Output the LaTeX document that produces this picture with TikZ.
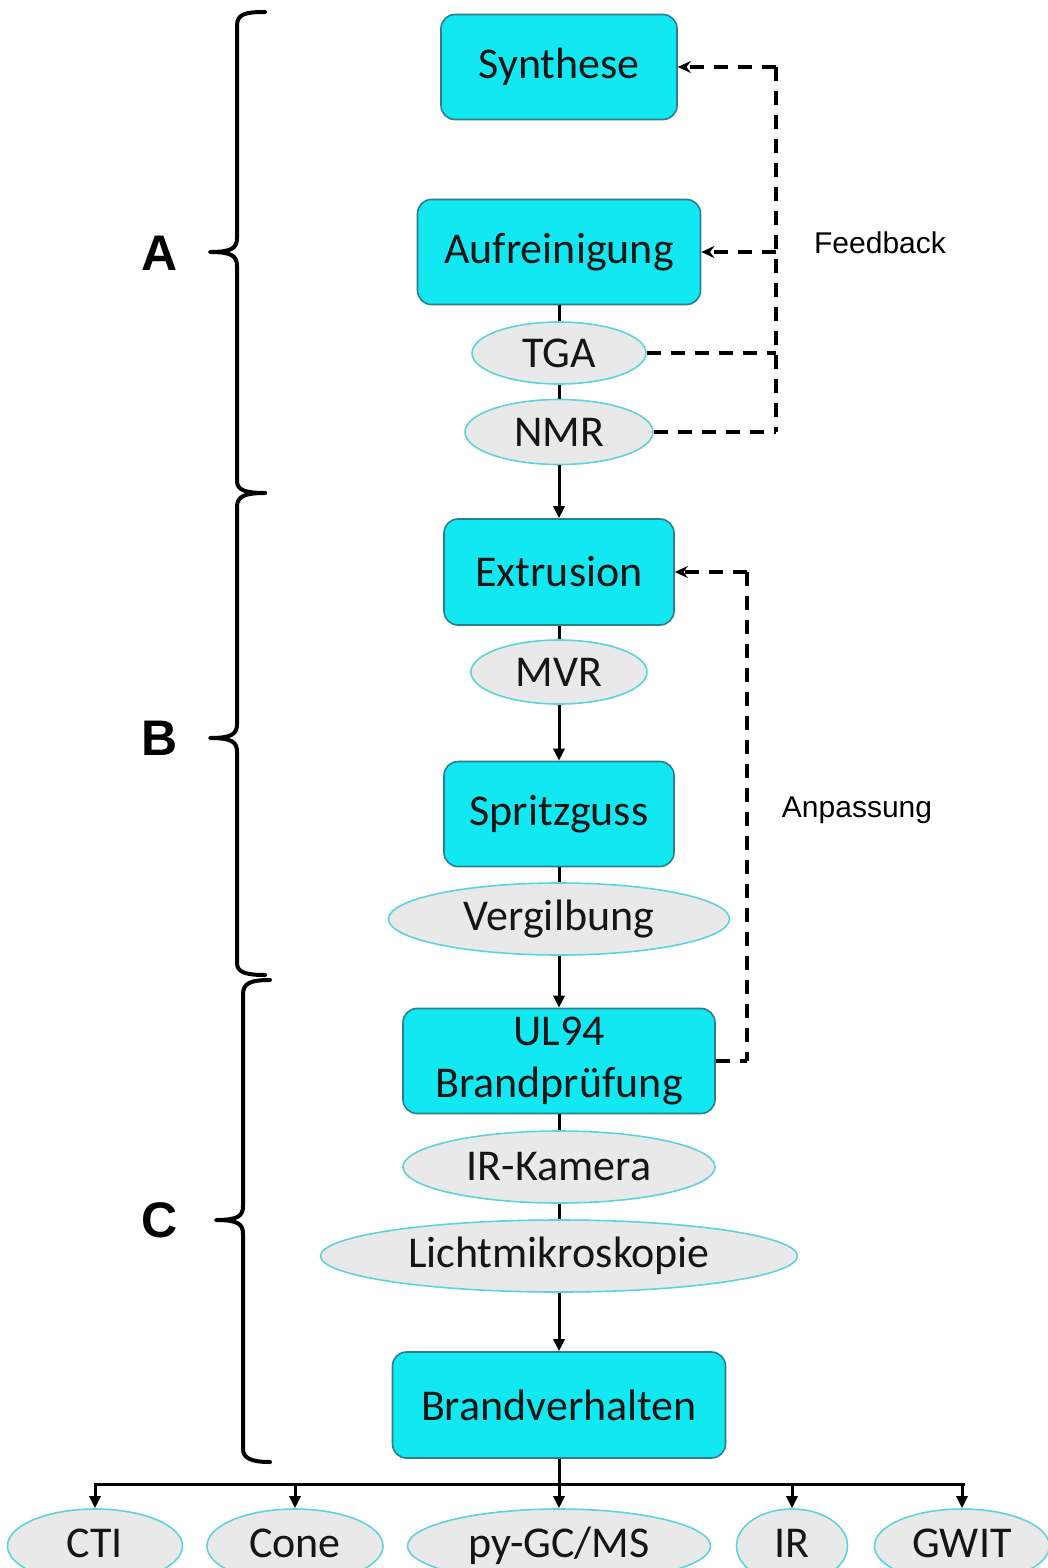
\documentclass[tikz,border=0pt]{standalone}
\usepackage{fontspec}
\setmainfont{Carlito}
\newfontfamily\arialfont{Liberation Sans}
\usetikzlibrary{shapes.geometric,arrows.meta}
\definecolor{boxfill}{HTML}{12E8F2}
\definecolor{boxdraw}{HTML}{2B7F8C}
\definecolor{ellfill}{HTML}{E9E9E9}
\definecolor{elldraw}{HTML}{5ED3DC}
\definecolor{txt}{HTML}{151515}
\begin{document}
\begin{tikzpicture}[x=1pt,y=-1pt,
  procbox/.style={draw=boxdraw, fill=boxfill, rounded corners=14pt, line width=1.6pt,
    inner sep=0pt, align=center, text=txt, font=\fontsize{44}{52}\selectfont},
  testell/.style={ellipse, draw=elldraw, fill=ellfill, line width=1.6pt, inner sep=0pt,
    text=txt, font=\fontsize{44}{50}\selectfont},
  flow/.style={line width=3pt, draw=black},
  flowarrow/.style={flow, -{Triangle[length=12pt,width=11pt]}},
  fb/.style={line width=3.2pt, dash pattern=on 14pt off 10pt},
  fbarrow/.style={fb, -{Stealth[length=13pt,width=12pt]}},
  sidelabel/.style={font=\arialfont\fontsize{30}{36}\selectfont},
  grouplabel/.style={font=\arialfont\bfseries\fontsize{50}{60}\selectfont},
  bracepath/.style={line width=4pt, line cap=round, line join=round}
]
\useasboundingbox (0,0) rectangle (1047,1568);
\fill[white] (0,0) rectangle (1047,1568);

% process boxes
\node[procbox, minimum width=236pt, minimum height=105pt] (syn) at (559,67) {Synthese};
\node[procbox, minimum width=283pt, minimum height=105pt] (auf) at (559,252) {Aufreinigung};
\node[procbox, minimum width=230pt, minimum height=106pt] (ext) at (559,572) {Extrusion};
\node[procbox, minimum width=230pt, minimum height=105pt] (spr) at (559,814) {Spritzguss};
\node[procbox, minimum width=312pt, minimum height=105pt] (ul) at (559,1061) {UL94\\Brandprüfung};
\node[procbox, minimum width=333pt, minimum height=106pt] (bv) at (559,1405) {Brandverhalten};

% test ellipses
\node[testell, minimum width=174pt, minimum height=62pt] (tga) at (559,353) {TGA};
\node[testell, minimum width=188pt, minimum height=65pt] (nmr) at (559,432) {NMR};
\node[testell, minimum width=176pt, minimum height=64pt] (mvr) at (559,672) {MVR};
\node[testell, minimum width=341pt, minimum height=72pt] (verg) at (559,919) {Vergilbung};
\node[testell, minimum width=312pt, minimum height=72pt] (irk) at (559,1167) {IR-Kamera};
\node[testell, minimum width=477pt, minimum height=72pt] (licht) at (559,1256) {Lichtmikroskopie};

\node[testell, minimum width=175pt, minimum height=74pt] (cti) at (95,1546) {\raisebox{6pt}{CTI}};
\node[testell, minimum width=176pt, minimum height=74pt] (cone) at (295,1546) {\raisebox{6pt}{Cone}};
\node[testell, minimum width=303pt, minimum height=74pt] (py) at (559,1546) {\raisebox{3pt}{py-GC/MS}};
\node[testell, minimum width=111pt, minimum height=74pt] (ir) at (792,1546) {\raisebox{6pt}{IR}};
\node[testell, minimum width=175pt, minimum height=74pt] (gwit) at (962,1546) {\raisebox{6pt}{GWIT}};

% main flow
\draw[flow] (auf.south) -- (tga.north);
\draw[flow] (tga.south) -- (nmr.north);
\draw[flowarrow] (nmr.south) -- (ext.north);
\draw[flow] (ext.south) -- (mvr.north);
\draw[flowarrow] (mvr.south) -- (spr.north);
\draw[flow] (spr.south) -- (verg.north);
\draw[flowarrow] (verg.south) -- (ul.north);
\draw[flow] (ul.south) -- (irk.north);
\draw[flow] (irk.south) -- (licht.north);
\draw[flowarrow] (licht.south) -- (bv.north);

% branching
\coordinate (junc) at (559,1484);
\coordinate (jl) at (95,1484);
\coordinate (jr) at (963,1484);
\draw[flow] (bv.south) -- (junc);
\draw[flow, line cap=rect] (jl) -- (jr);
\foreach \n in {cti,cone,py,ir,gwit}
  \draw[flowarrow] (\n.north |- junc) -- (\n.north);

% feedback loop
\coordinate (fbt) at (776,67);
\coordinate (fbb) at (776,432);
\draw[fb] (fbt) -- (fbb);
\draw[fbarrow] (fbt) -- (syn.east);
\draw[fbarrow] (auf.east -| fbt) -- (auf.east);
\draw[fb] (tga.east) -- (tga.east -| fbt);
\draw[fb] (nmr.east) -- (fbb);
\node[sidelabel] (fblab) at (880,243) {Feedback};

% adjustment loop
\coordinate (ant) at (747,572);
\coordinate (anb) at (747,1061);
\draw[fb] (ant) -- (anb);
\draw[fbarrow] (ant) -- (ext.east);
\draw[fb] (ul.east) -- (anb);
\node[sidelabel] (anlab) at (857,810) {Anpassung};

% braces
\draw[bracepath] (265,12) .. controls (245,12) and (237,14) .. (237,26) -- (237,238)
  .. controls (237,248) and (232,252) .. (210,252)
  .. controls (232,252) and (237,256) .. (237,266) -- (237,481)
  .. controls (237,490) and (245,493) .. (265,493);
\draw[bracepath] (265,493) .. controls (245,493) and (237,496) .. (237,507) -- (237,724)
  .. controls (237,734) and (232,738) .. (210,738)
  .. controls (232,738) and (237,742) .. (237,752) -- (237,963)
  .. controls (237,972) and (245,975) .. (265,975);
\draw[bracepath] (270,980) .. controls (251,980) and (243,983) .. (243,994) -- (243,1206)
  .. controls (243,1216) and (238,1220) .. (216,1220)
  .. controls (238,1220) and (243,1224) .. (243,1234) -- (243,1449)
  .. controls (243,1458) and (251,1462) .. (270,1462);

\node[grouplabel] (la) at (160,253) {A};
\node[grouplabel] (lb) at (160,738) {B};
\node[grouplabel] (lc) at (160,1220) {C};
\end{tikzpicture}
\end{document}
